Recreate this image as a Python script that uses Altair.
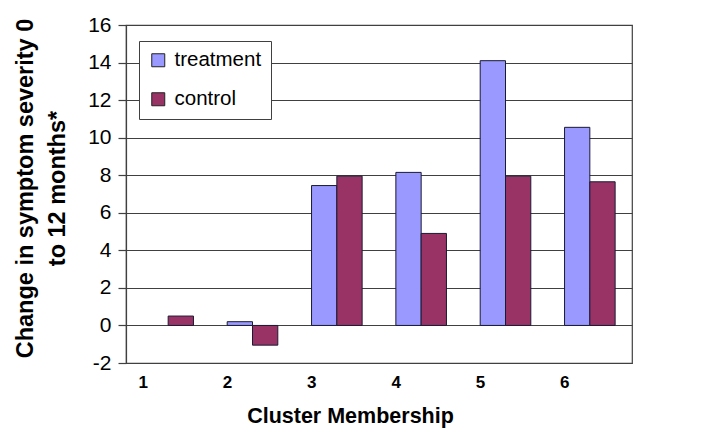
import altair as alt
import pandas as pd

clusters = ["1", "2", "3", "4", "5", "6"]
treatment = [None, 0.2, 7.45, 8.15, 14.1, 10.55]
control = [0.5, -1.05, 7.95, 4.9, 7.95, 7.65]
groups = ["treatment", "control"]
colors = ["#9999FF", "#993366"]
y_ticks = list(range(-2, 17, 2))

rows = []
for c, t, k in zip(clusters, treatment, control):
    if t is not None:
        rows.append({"cluster": c, "group": "treatment", "value": t})
    rows.append({"cluster": c, "group": "control", "value": k})
df = pd.DataFrame(rows)

FONT = "Liberation Sans"
DARK = "#404040"

chart = alt.Chart(df).mark_bar(stroke="#1a1a33", strokeWidth=1).encode(
    x=alt.X(
        "cluster:N", sort=clusters, title="Cluster Membership",
        scale=alt.Scale(paddingInner=0.4, paddingOuter=0.2),
        axis=alt.Axis(
            labelAngle=0, ticks=False, domain=False, grid=False, labelOffset=-25,
            labelFont=FONT, labelFontSize=17, labelFontWeight="bold", labelColor="black",
            labelPadding=11,
            titleFont=FONT, titleFontSize=21.5, titleFontWeight="bold", titleColor="black",
            titleX=224, titleY=53, titleBaseline="middle", titleAlign="center",
        ),
    ),
    xOffset=alt.XOffset("group:N", sort=groups),
    y=alt.Y(
        "value:Q", title=["Change in symptom severity 0", "to 12 months*"],
        scale=alt.Scale(domain=[-2, 16], nice=False, zero=False),
        axis=alt.Axis(
            values=y_ticks, grid=True, gridColor=DARK, gridOpacity=1, gridWidth=1.2,
            domain=True, domainColor=DARK, domainWidth=1.2, tickColor=DARK, tickWidth=1.2,
            tickSize=8, labelExpr="'' + datum.value",
            labelFont=FONT, labelFontSize=21, labelColor="black", labelPadding=7,
            titleFont=FONT, titleFontSize=23.5, titleFontWeight="bold", titleColor="black",
            titleAngle=-90, titleX=-101, titleY=163, titleAlign="center",
            titleBaseline="middle", titleLineHeight=32,
        ),
    ),
    color=alt.Color(
        "group:N", scale=alt.Scale(domain=groups, range=colors),
        legend=alt.Legend(
            orient="none", legendX=13, legendY=16, title=None,
            labelFont=FONT, labelFontSize=20.5, labelColor="black",
            symbolType="square", symbolSize=169, symbolStrokeColor="#222222",
            symbolStrokeWidth=1, symbolOpacity=1,
            strokeColor=DARK, fillColor="white", padding=9, rowPadding=18,
            labelOffset=6,
        ),
    ),
).properties(
    width=506, height=338,
    autosize=alt.AutoSizeParams(type="none"),
    padding={"left": 118, "top": 17, "right": 72, "bottom": 65},
).configure_view(stroke=DARK, strokeWidth=1.2)

chart.save("out.html", embed_options={"renderer": "svg", "actions": False})
